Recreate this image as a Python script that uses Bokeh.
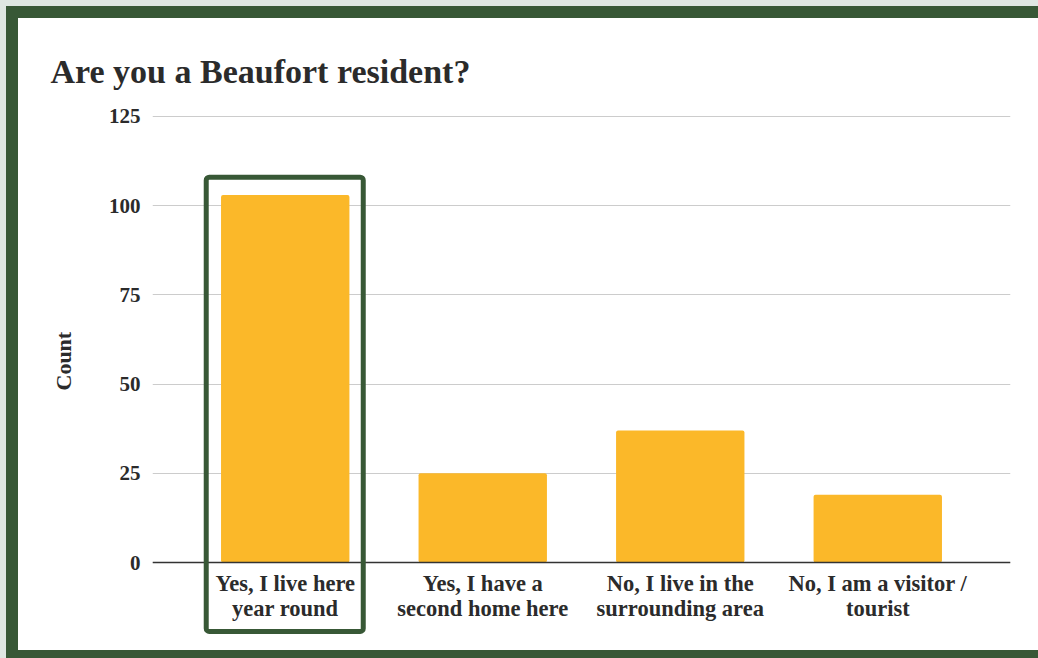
from bokeh.plotting import figure
from bokeh.models import BoxAnnotation, FactorRange, Range1d, FixedTicker, Title
from bokeh.embed import file_html
from bokeh.resources import INLINE

# ---- data ----
categories = [
    "Yes, I live here\nyear round",
    "Yes, I have a\nsecond home here",
    "No, I live in the\nsurrounding area",
    "No, I am a visitor /\ntourist",
]
counts = [103, 25, 37, 19]
y_ticks = [0, 25, 50, 75, 100, 125]
title_text = "Are you a Beaufort resident?"
y_label = "Count"
highlight_index = 0

# ---- style ----
GREEN = "#385836"
LIGHT = "#dfe7e2"
GOLD = "#FBB829"
TEXT = "#2b2b2b"
FONT = "Liberation Serif"

p = figure(
    width=1020, height=632,
    x_range=FactorRange(factors=categories, range_padding=0.172,
                        range_padding_units="absolute"),
    y_range=Range1d(-24.66, 125.56),
    output_backend="svg", toolbar_location=None,
    min_border_left=134, min_border_right=28,
    min_border_top=96, min_border_bottom=0,
    border_fill_color="white", background_fill_color="white",
    outline_line_color=None,
)
p.margin = (18, 0, 0, 18)
p.styles = {"box-shadow": f"0 0 0 12px {GREEN}, 0 0 0 18px {LIGHT}"}

# title
p.title.text = title_text
p.title.align = "left"
p.title.offset = -102
p.title.standoff = 50
p.title.text_font = FONT
p.title.text_font_size = "34px"
p.title.text_font_style = "bold"
p.title.text_color = TEXT

p.vbar(x=categories, top=counts, width=0.65, fill_color=GOLD,
       line_color=None, border_radius=2)

# highlight box around the first category
hx = highlight_index + 0.5
hl = BoxAnnotation(left=hx - 0.4, right=hx + 0.395,
                   top=counts[highlight_index] + 5, bottom=-19.3,
                   fill_alpha=0, line_color=GREEN, line_alpha=1, line_width=5,
                   border_radius=3, level="overlay")
p.add_layout(hl)

# axes
p.yaxis.ticker = FixedTicker(ticks=y_ticks)
p.ygrid.ticker = FixedTicker(ticks=y_ticks)
p.yaxis.axis_line_color = None
p.yaxis.major_tick_line_color = None
p.yaxis.minor_tick_line_color = None
p.yaxis.major_tick_out = 0
p.yaxis.major_tick_in = 0
p.yaxis.major_label_standoff = 12
p.yaxis.major_label_text_font = FONT
p.yaxis.major_label_text_font_size = "21px"
p.yaxis.major_label_text_font_style = "bold"
p.yaxis.major_label_text_color = TEXT

ytitle = Title(text=y_label, align="left", offset=260, standoff=60,
               text_font=FONT, text_font_size="22px", text_font_style="bold",
               text_color=TEXT)
p.add_layout(ytitle, "left")

p.xaxis.fixed_location = 0
p.xaxis.axis_line_color = "#333333"
p.xaxis.axis_line_width = 1.5
p.xaxis.major_tick_line_color = None
p.xaxis.minor_tick_line_color = None
p.xaxis.major_tick_out = 0
p.xaxis.major_tick_in = 0
p.xaxis.major_label_standoff = 8
p.xaxis.major_label_text_font = FONT
p.xaxis.major_label_text_font_size = "22.5px"
p.xaxis.major_label_text_font_style = "bold"
p.xaxis.major_label_text_color = TEXT
p.xaxis.major_label_text_line_height = 1.0

p.xgrid.grid_line_color = None
p.ygrid.grid_line_color = "#cccccc"
p.ygrid.grid_line_width = 1

open("out.html", "w").write(file_html(p, INLINE))
